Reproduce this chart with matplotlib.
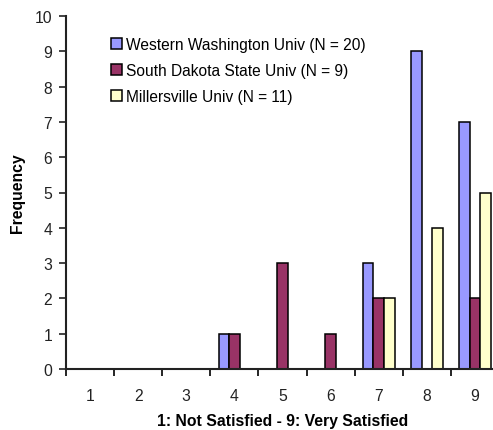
import numpy as np
import matplotlib.pyplot as plt

plt.rcParams['font.family'] = ['Liberation Sans', 'DejaVu Sans']

ratings = [1, 2, 3, 4, 5, 6, 7, 8, 9]
wwu = [0, 0, 0, 1, 0, 0, 3, 9, 7]
sdsu = [0, 0, 0, 1, 3, 1, 2, 0, 2]
msu = [0, 0, 0, 0, 0, 0, 2, 4, 5]
labels = ['Western Washington Univ (N = 20)',
          'South Dakota State Univ (N = 9)',
          'Millersville Univ (N = 11)']
colors = ['#9999FF', '#993366', '#FFFFCC']

fig = plt.figure(figsize=(4.93, 4.31), dpi=100)
ax = fig.add_axes([66/493, 61/431, 433/493, 353/431])

x = np.array(ratings)
w = 0.22
for i, (vals, lab, col) in enumerate(zip([wwu, sdsu, msu], labels, colors)):
    ax.bar(x + (i - 1) * w, vals, width=w, color=col, edgecolor='black',
           linewidth=1.1, label=lab)

ax.set_xlim(0.5, 9.5)
ax.set_ylim(0, 10)
ax.set_yticks(range(0, 11))
ax.set_xticks(ratings)
ax.set_xticks(np.arange(0.5, 9.6, 1), minor=True)
ax.tick_params(axis='x', which='major', length=0, pad=14, labelsize=11.3, colors='#222')
ax.tick_params(axis='x', which='minor', length=5, width=1.2, direction='out')
ax.tick_params(axis='y', length=5, width=1.2, labelsize=11.3, colors='#222', pad=5)
for side in ['top', 'right']:
    ax.spines[side].set_visible(False)
for side in ['left', 'bottom']:
    ax.spines[side].set_linewidth(1.5)
    ax.spines[side].set_color('#222')

ax.set_xlabel('1: Not Satisfied - 9: Very Satisfied', fontweight='bold', fontsize=11.3, labelpad=7)
ax.set_ylabel('Frequency', fontweight='bold', fontsize=11.3, labelpad=7)

ax.legend(loc='upper left', bbox_to_anchor=(103/493, 1 - 30/431),
          bbox_transform=fig.transFigure, frameon=False, fontsize=11.2,
          handlelength=0.7, handleheight=0.7, handletextpad=0.25,
          labelspacing=0.72, borderpad=0)

fig.savefig('out.png', dpi=100)
